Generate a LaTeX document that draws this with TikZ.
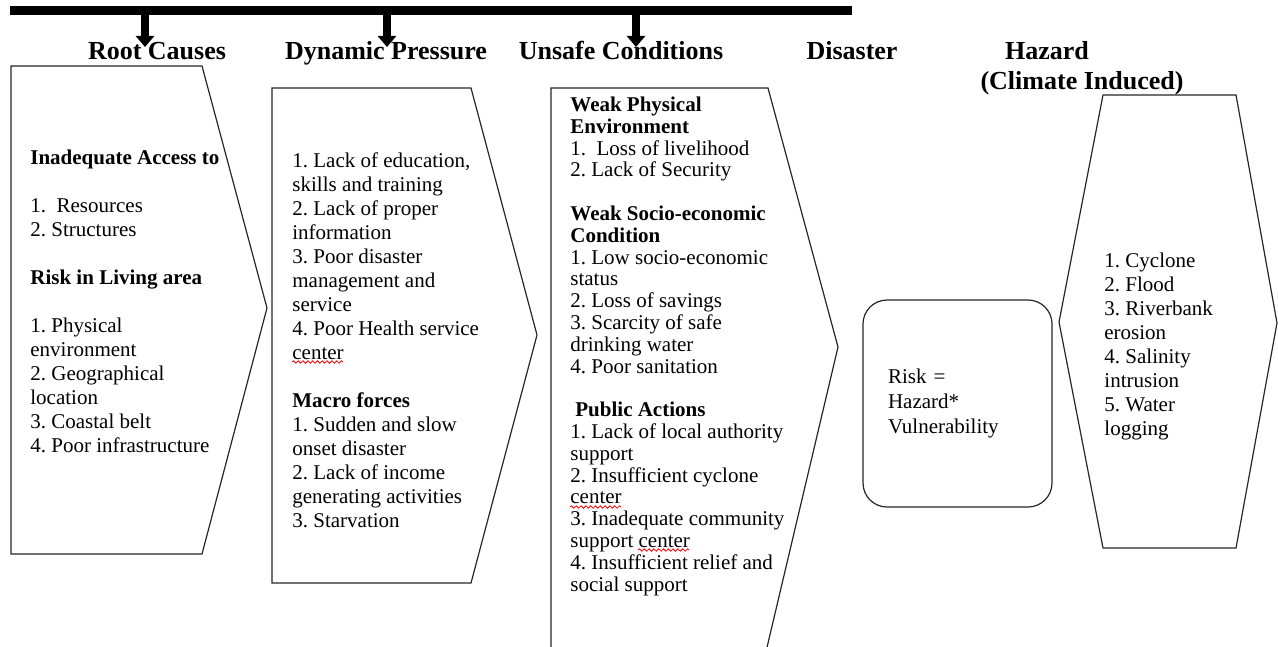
\documentclass[tikz,border=0pt]{standalone}
\usepackage{fontspec}
\setmainfont{Liberation Serif}
\usepackage{xcolor}
\usetikzlibrary{arrows.meta,decorations.pathmorphing}
\frenchspacing

\begin{document}
\begin{tikzpicture}[x=0.5pt,y=-0.5pt,
  head/.style={font=\fontsize{13}{15}\selectfont\bfseries, anchor=base, inner sep=0pt},
  body/.style={font=\fontsize{10.5}{12}\selectfont, align=left, anchor=base west, inner sep=0pt},
  frame/.style={draw=black!85, line width=0.6pt},
  downarr/.style={line width=3.6pt, -{Triangle[width=9pt,length=5.5pt]}},
  spellwave/.style={red, line width=0.4pt, decorate,
    decoration={snake, amplitude=0.6pt, segment length=2.4pt}}]
\useasboundingbox (0,0) rectangle (1278,647);

% top bar
\coordinate (barL) at (10,11);
\coordinate (barR) at (852,11);
\draw[line width=4.5pt] (barL) -- (barR);

% headings
\node[head] (rc) at (157,60) {Root Causes};
\node[head] (dp) at (386,60) {Dynamic Pressure};
\node[head] (uc) at (621,60) {Unsafe Conditions};
\node[head] (ds) at (852,60) {Disaster};
\node[head] (hz) at (1047,60) {Hazard};
\node[head] (ci) at (1082,90) {(Climate Induced)};

% arrows from the bar
\coordinate (b1) at (145,11);  \coordinate (t1) at (145,47);
\coordinate (b2) at (387,11);  \coordinate (t2) at (387,47);
\coordinate (b3) at (636,11);  \coordinate (t3) at (636,47);
\draw[downarr] (b1) -- (t1);
\draw[downarr] (b2) -- (t2);
\draw[downarr] (b3) -- (t3);

% root causes (node placed by its last line)
\draw[frame] (11,66) -- (202,66) -- (267,308) -- (202,554) -- (11,554) -- cycle;
\node[body] (rctext) at (30,452) {\textbf{Inadequate Access to}\\[12pt]
1.~~Resources\\
2. Structures\\[12pt]
\textbf{Risk in Living area}\\[12pt]
1. Physical\\
environment\\
2. Geographical\\
location\\
3. Coastal belt\\
4. Poor infrastructure};

% dynamic pressure
\draw[frame] (272,88) -- (471,88) -- (537,335) -- (471,583) -- (272,583) -- cycle;
\node[body] (dptext) at (292,527) {1. Lack of education,\\
skills and training\\
2. Lack of proper\\
information\\
3. Poor disaster\\
management and\\
service\\
4. Poor Health service\\
center\\[12pt]
\textbf{Macro forces}\\
1. Sudden and slow\\
onset disaster\\
2. Lack of income\\
generating activities\\
3. Starvation};
\draw[spellwave] (292,362) -- (343,362);

% unsafe conditions
\draw[frame] (551,660) -- (551,88) -- (768,88) -- (838,347) -- (764,660);
\node[body, font=\fontsize{10.5}{10.9}\selectfont] (uctext) at (570,591) {\textbf{Weak Physical}\\
\textbf{Environment}\\
1.~~Loss of livelihood\\
2. Lack of Security\\[10.9pt]
\textbf{Weak Socio-economic}\\
\textbf{Condition}\\
1. Low socio-economic\\
status\\
2. Loss of savings\\
3. Scarcity of safe\\
drinking water\\
4. Poor sanitation\\[10.9pt]
\hspace{2.5pt}\textbf{Public Actions}\\
1. Lack of local authority\\
support\\
2. Insufficient cyclone\\
center\\
3. Inadequate community\\
support center\\
4. Insufficient relief and\\
social support};
\draw[spellwave] (570,507) -- (621,507);
\draw[spellwave] (638,550) -- (689,550);

% disaster
\node[frame, rounded corners=12pt, minimum height=103.5pt, text width=69.5pt,
  inner xsep=12.5pt, align=left, font=\fontsize{10.5}{12.5}\selectfont]
  (risk) at (957.5,403.5) {Risk =\\ Hazard*\\ Vulnerability};

% hazard
\draw[frame] (1059,322) -- (1103,95) -- (1236,95) -- (1277,323) -- (1236,548) -- (1103,548) -- cycle;
\node[body] (hztext) at (1104,435) {1. Cyclone\\
2. Flood\\
3. Riverbank\\
erosion\\
4. Salinity\\
intrusion\\
5. Water\\
logging};
\end{tikzpicture}
\end{document}
